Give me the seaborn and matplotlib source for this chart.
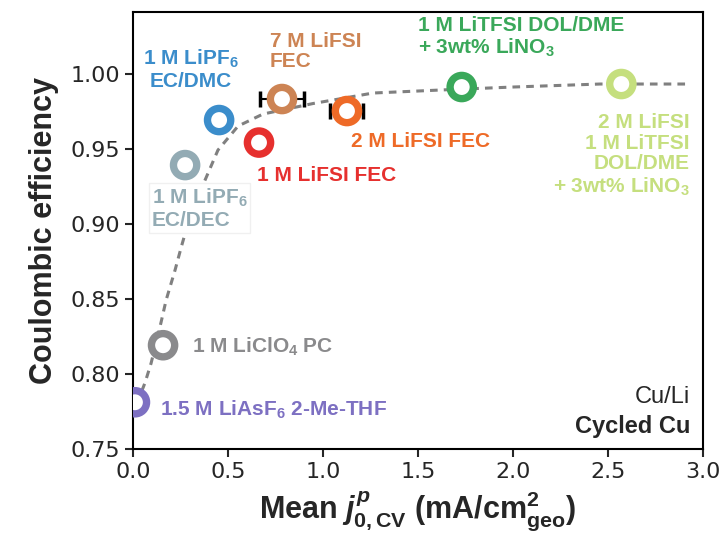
import numpy as np
import pandas as pd
import matplotlib
matplotlib.use("Agg")
import matplotlib.pyplot as plt
import seaborn as sns

# electrolyte data points (mean j0 vs Coulombic efficiency)
electrolytes = [
    "1.5 M LiAsF6 2-Me-THF", "1 M LiClO4 PC", "1 M LiPF6 EC/DEC", "1 M LiPF6 EC/DMC",
    "1 M LiFSI FEC", "7 M LiFSI FEC", "2 M LiFSI FEC", "1 M LiTFSI DOL/DME + LiNO3",
    "2 M LiFSI 1 M LiTFSI DOL/DME + LiNO3",
]
j0_mean = [0.01, 0.158, 0.274, 0.453, 0.663, 0.784, 1.126, 1.73, 2.57]
ce = [0.781, 0.819, 0.939, 0.969, 0.954, 0.983, 0.975, 0.991, 0.993]
j0_err = [0, 0, 0, 0, 0, 0.115, 0.087, 0, 0]
colors = ["#7d70c2", "#8a8a8c", "#93abb4", "#3b8dcb", "#e6302e",
          "#cd8454", "#ee6a27", "#3aa85a", "#c5df7e"]

# dashed trend line
fit_x = [0.02, 0.063, 0.095, 0.147, 0.174, 0.221, 0.253, 0.30, 0.379, 0.447,
         0.553, 0.684, 0.947, 1.263, 1.616, 2.0, 2.458, 2.916]
fit_y = [0.780, 0.794, 0.807, 0.834, 0.849, 0.869, 0.884, 0.905, 0.929, 0.949,
         0.965, 0.973, 0.980, 0.987, 0.989, 0.991, 0.993, 0.993]

# annotation text, position, alignment (same order as electrolytes)
labels = [
    (r"1.5 M LiAsF$_6$ 2-Me-THF", 0.142, 0.776, "left"),
    (r"1 M LiClO$_4$ PC", 0.31, 0.818, "left"),
    ("1 M LiPF$_6$\nEC/DEC", 0.10, 0.910, "left"),
    ("1 M LiPF$_6$\nEC/DMC", 0.305, 1.003, "center"),
    ("1 M LiFSI FEC", 0.653, 0.932, "left"),
    ("7 M LiFSI\nFEC", 0.72, 1.0147, "left"),
    ("2 M LiFSI FEC", 1.147, 0.955, "left"),
    ("1 M LiTFSI DOL/DME\n+ 3wt% LiNO$_3$", 1.50, 1.024, "left"),
    ("2 M LiFSI\n1 M LiTFSI\nDOL/DME\n+ 3wt% LiNO$_3$", 2.93, 0.9455, "right"),
]

df = pd.DataFrame({"electrolyte": electrolytes, "j0": j0_mean, "ce": ce, "err": j0_err})
fit = pd.DataFrame({"x": fit_x, "y": fit_y})

sns.set_style("ticks")
plt.rcParams["font.family"] = ["DejaVu Sans"]
plt.rcParams["mathtext.fontset"] = "custom"
plt.rcParams["mathtext.rm"] = "Liberation Sans:bold"
plt.rcParams["mathtext.it"] = "Liberation Sans:bold:italic"
plt.rcParams["mathtext.bf"] = "Liberation Sans:bold"

fig, ax = plt.subplots(figsize=(7.27, 5.44), dpi=100)
fig.subplots_adjust(left=0.183, right=0.967, top=0.978, bottom=0.175)

sns.lineplot(data=fit, x="x", y="y", ax=ax, color="#808080", lw=2.2,
             linestyle=(0, (2.5, 2)), zorder=1)

err = df[df["err"] > 0]
ax.errorbar(err["j0"], err["ce"], xerr=err["err"], fmt="none", ecolor="black",
            elinewidth=1.5, capsize=6, capthick=2.5, zorder=2)

sns.scatterplot(data=df, x="j0", y="ce", hue="electrolyte", palette=colors,
                s=280, linewidth=5.3, legend=False, ax=ax, zorder=3)
pts = ax.collections[-1]
pts.set_edgecolors(pts.get_facecolors())
pts.set_facecolors("white")

for (txt, x, y, ha), c in zip(labels, colors):
    kw = {}
    if "EC/DEC" in txt:
        kw["bbox"] = dict(facecolor="white", edgecolor="#f0f0f0", pad=2)
    ax.text(x, y, txt, color=c, ha=ha, va="center", multialignment=ha,
            fontsize=15, fontweight="bold", family="Liberation Sans",
            linespacing=1.12, zorder=4, **kw)

ax.text(0.978, 0.118, "Cu/Li", transform=ax.transAxes, ha="right", va="center",
        fontsize=17, family="Liberation Sans")
ax.text(0.978, 0.052, "Cycled Cu", transform=ax.transAxes, ha="right", va="center",
        fontsize=17, fontweight="bold", family="Liberation Sans")

ax.set_xlim(0, 3.0)
ax.set_ylim(0.75, 1.041)
ax.set_xticks(np.arange(0, 3.01, 0.5))
ax.set_yticks(np.arange(0.75, 1.001, 0.05))
ax.set_xticklabels([f"{v:.1f}" for v in np.arange(0, 3.01, 0.5)])
ax.set_yticklabels([f"{v:.2f}" for v in np.arange(0.75, 1.001, 0.05)])
ax.tick_params(labelsize=16, width=1.5, length=6, direction="out")
for s in ax.spines.values():
    s.set_visible(True)
    s.set_linewidth(1.5)
    s.set_color("black")

ax.set_ylabel("Coulombic efficiency", fontsize=22, fontweight="bold",
              family="Liberation Sans", labelpad=8)
ax.set_xlabel(r"Mean $\mathit{j}^{p}_{0,\mathrm{CV}}$ (mA/cm$^{2}_{\mathrm{geo}}$)",
              fontsize=22, fontweight="bold", family="Liberation Sans", labelpad=6)

fig.savefig("out.png", dpi=100)
plt.close(fig)
